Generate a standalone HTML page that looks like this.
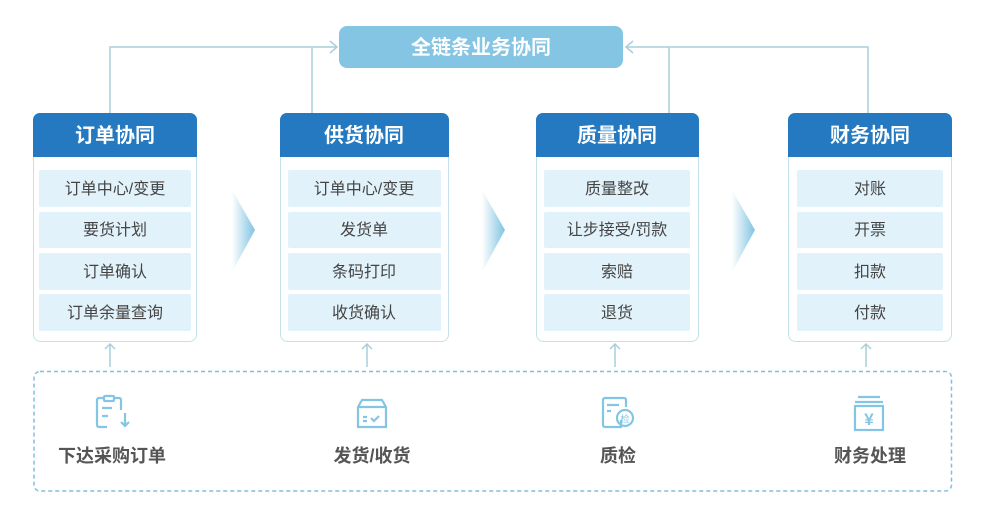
<!DOCTYPE html>
<html><head><meta charset="utf-8"><style>
body{margin:0;background:#fff;width:982px;height:510px;overflow:hidden}
text{font-family:"Liberation Sans","Noto Sans CJK SC",sans-serif}
</style></head><body>
<svg width="982" height="510" viewBox="0 0 982 510" xmlns="http://www.w3.org/2000/svg">
<defs>
<linearGradient id="g" x1="0" x2="1" y1="0" y2="0"><stop offset="0" stop-color="#fff"/><stop offset="1" stop-color="#7fc3e2"/></linearGradient>
</defs>
<g fill="none" stroke="#a9cfdc" stroke-width="1.5">
<path d="M110 113V47H336M312 113V47"/>
<path d="M330 41l7 6-7 6"/>
<path d="M868 113V47H626M669 113V47"/>
<path d="M633 41l-7 6 7 6"/>
</g>
<rect x="339" y="26" width="284" height="42" rx="8" fill="#85c5e4"/>
<text x="481" y="54" text-anchor="middle" font-size="20" font-weight="bold" fill="#fff">全链条业务协同</text>

<path d="M232 190L255 230L232 272Z" fill="url(#g)"/>
<path d="M482 190L505 230L482 272Z" fill="url(#g)"/>
<path d="M732 190L755 230L732 272Z" fill="url(#g)"/>

<g>
<rect x="33.5" y="113.5" width="163" height="228" rx="7" fill="#fff" stroke="#c2e1ec"/>
<path d="M33 157V120a7 7 0 0 1 7-7h150a7 7 0 0 1 7 7v37z" fill="#2479c0"/>
<text x="115" y="142" text-anchor="middle" font-size="20" font-weight="bold" fill="#fff">订单协同</text>
<rect x="39" y="170" width="152" height="37" rx="2" fill="#e2f2fa"/>
<rect x="39" y="212" width="152" height="36" rx="2" fill="#e2f2fa"/>
<rect x="39" y="253" width="152" height="37" rx="2" fill="#e2f2fa"/>
<rect x="39" y="294" width="152" height="37" rx="2" fill="#e2f2fa"/>
<g font-size="16" fill="#444" text-anchor="middle">
<text x="115" y="194">订单中心/变更</text><text x="115" y="235">要货计划</text><text x="115" y="277">订单确认</text><text x="115" y="318">订单余量查询</text></g>
</g>
<g>
<rect x="280.5" y="113.5" width="168" height="228" rx="7" fill="#fff" stroke="#c2e1ec"/>
<path d="M280 157V120a7 7 0 0 1 7-7h155a7 7 0 0 1 7 7v37z" fill="#2479c0"/>
<text x="364" y="142" text-anchor="middle" font-size="20" font-weight="bold" fill="#fff">供货协同</text>
<rect x="288" y="170" width="153" height="37" rx="2" fill="#e2f2fa"/>
<rect x="288" y="212" width="153" height="36" rx="2" fill="#e2f2fa"/>
<rect x="288" y="253" width="153" height="37" rx="2" fill="#e2f2fa"/>
<rect x="288" y="294" width="153" height="37" rx="2" fill="#e2f2fa"/>
<g font-size="16" fill="#444" text-anchor="middle">
<text x="364" y="194">订单中心/变更</text><text x="364" y="235">发货单</text><text x="364" y="277">条码打印</text><text x="364" y="318">收货确认</text></g>
</g>
<g>
<rect x="536.5" y="113.5" width="162" height="228" rx="7" fill="#fff" stroke="#c2e1ec"/>
<path d="M536 157V120a7 7 0 0 1 7-7h149a7 7 0 0 1 7 7v37z" fill="#2479c0"/>
<text x="617" y="142" text-anchor="middle" font-size="20" font-weight="bold" fill="#fff">质量协同</text>
<rect x="544" y="170" width="146" height="37" rx="2" fill="#e2f2fa"/>
<rect x="544" y="212" width="146" height="36" rx="2" fill="#e2f2fa"/>
<rect x="544" y="253" width="146" height="37" rx="2" fill="#e2f2fa"/>
<rect x="544" y="294" width="146" height="37" rx="2" fill="#e2f2fa"/>
<g font-size="16" fill="#444" text-anchor="middle">
<text x="617" y="194">质量整改</text><text x="617" y="235">让步接受/罚款</text><text x="617" y="277">索赔</text><text x="617" y="318">退货</text></g>
</g>
<g>
<rect x="788.5" y="113.5" width="163" height="228" rx="7" fill="#fff" stroke="#c2e1ec"/>
<path d="M788 157V120a7 7 0 0 1 7-7h150a7 7 0 0 1 7 7v37z" fill="#2479c0"/>
<text x="870" y="142" text-anchor="middle" font-size="20" font-weight="bold" fill="#fff">财务协同</text>
<rect x="797" y="170" width="146" height="37" rx="2" fill="#e2f2fa"/>
<rect x="797" y="212" width="146" height="36" rx="2" fill="#e2f2fa"/>
<rect x="797" y="253" width="146" height="37" rx="2" fill="#e2f2fa"/>
<rect x="797" y="294" width="146" height="37" rx="2" fill="#e2f2fa"/>
<g font-size="16" fill="#444" text-anchor="middle">
<text x="870" y="194">对账</text><text x="870" y="235">开票</text><text x="870" y="277">扣款</text><text x="870" y="318">付款</text></g>
</g>

<g fill="none" stroke="#a9cfdc" stroke-width="1.5">
<path d="M110 367V344M105 349l5-5 5 5"/>
<path d="M367 367V344M362 349l5-5 5 5"/>
<path d="M615 367V344M610 349l5-5 5 5"/>
<path d="M866 367V344M861 349l5-5 5 5"/>
</g>
<rect x="34" y="371.5" width="917.5" height="119.5" rx="6" fill="none" stroke="#7fbfde" stroke-width="1.5" stroke-dasharray="4 3"/>

<g fill="none" stroke="#85c5e4" stroke-width="2.2">
<path d="M104 398h-5a2 2 0 0 0-2 2v25a2 2 0 0 0 2 2h8M121 410v-10a2 2 0 0 0-2-2h-5"/>
<rect x="104" y="396" width="10" height="5" rx="1"/>
<path d="M102 408h10M102 416h6M125 413v13M121 422l4 4 4-4"/>
<path d="M358 407l4-7h20l4 7v20h-28z M358 407h28"/>
<path d="M363 417h4M363 421h4M371 418l3 3 5-5"/>
<path d="M621 420v7h-16a2 2 0 0 1-2-2v-25a2 2 0 0 1 2-2h19a2 2 0 0 1 2 2v7M607 405h12M607 411h4"/>
<circle cx="625" cy="418" r="8"/>
<path d="M858 397h22M855 402h28M855 406h28v24h-28z"/>
</g>
<text x="625" y="422" text-anchor="middle" font-size="9" fill="#85c5e4">检</text>
<text x="869" y="425" text-anchor="middle" font-size="17" font-weight="bold" fill="#85c5e4">¥</text>

<g font-size="18" font-weight="bold" fill="#555" text-anchor="middle">
<text x="112" y="462">下达采购订单</text>
<text x="372" y="462">发货/收货</text>
<text x="618" y="462">质检</text>
<text x="870" y="462">财务处理</text>
</g>
</svg>
</body></html>
